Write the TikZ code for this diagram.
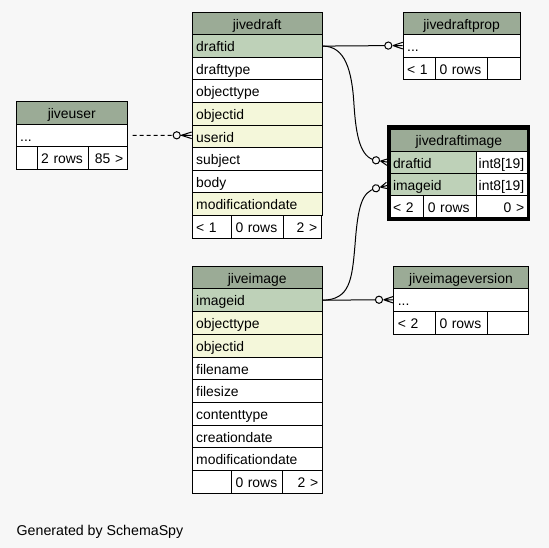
\documentclass[tikz,border=0pt]{standalone}
\usepackage{fontspec}
\setmainfont{Liberation Sans}
\definecolor{bgc}{HTML}{F7F7F7}
\definecolor{hdr}{HTML}{9BAB96}
\definecolor{pkc}{HTML}{BED1B8}
\definecolor{idx}{HTML}{F4F7DA}
\tikzset{
  tcell/.style={draw=black, line width=1pt, inner xsep=4pt, inner ysep=0pt,
    text height=12pt, text depth=0.6pt, minimum height=22.6pt, anchor=north west,
    align=left, font=\fontsize{13.9}{16}\selectfont},
  hcell/.style={tcell, fill=hdr, align=center},
  rcell/.style={tcell, align=right},
  dcell/.style={tcell, inner xsep=2.5pt, minimum height=22.2pt},
  conn/.style={draw=black, line width=1pt},
  dashconn/.style={conn, dash pattern=on 4pt off 3pt},
  pics/crow/.style={code={
    \draw[line width=1pt, fill=bgc] (0,0) circle (3.6pt);
    \draw[line width=1pt] (4.6,0) -- (#1,0) (4.6,0) -- (#1,3.3) (4.6,0) -- (#1,-3.3);
  }}
}
\begin{document}
\begin{tikzpicture}[x=1pt,y=-1pt]
\fill[bgc] (0,0) rectangle (549,548);
\useasboundingbox (0,0) rectangle (549,548);

% ---------- jivedraft ----------
\node[hcell, text width=122pt] (jd-head) at (191.7,11.7) {jivedraft};
\foreach \nm/\tx/\cl [count=\i] in {draftid/draftid/pkc, drafttype/drafttype/white,
  objecttype/objecttype/white, objectid/objectid/idx, userid/userid/idx,
  subject/subject/white, body/body/white, moddate/modificationdate/idx}
  \node[tcell, fill=\cl, text width=122pt] (jd-\nm) at (191.7,{11.7+\i*22.6}) {\tx};
\node[tcell, fill=white, text width=31.3pt] (jd-f1) at (191.7,215.1) {< 1};
\node[tcell, fill=white, text width=43.5pt] (jd-f2) at (231,215.1) {0 rows};
\node[rcell, fill=white, inner xsep=4pt, text width=30.2pt, xshift=0pt] (jd-f3) at (282.5,215.1) {2 >};

% ---------- jivedraftprop ----------
\node[hcell, text width=108.8pt] (jp-head) at (402.7,11.7) {jivedraftprop};
\node[tcell, fill=white, text width=108.8pt] (jp-dots) at (402.7,34.3) {...};
\node[tcell, fill=white, text width=24.3pt] (jp-f1) at (402.7,56.9) {< 1};
\node[tcell, fill=white, text width=43.7pt] (jp-f2) at (435,56.9) {0 rows};
\node[rcell, fill=white, text width=24.8pt] (jp-f3) at (486.7,56.9) {};

% ---------- jiveuser ----------
\node[hcell, text width=103pt] (ju-head) at (15.7,101) {jiveuser};
\node[tcell, fill=white, text width=103pt] (ju-dots) at (15.7,123.6) {...};
\node[tcell, fill=white, text width=13pt] (ju-f1) at (15.7,146.2) {};
\node[tcell, fill=white, text width=43.6pt] (ju-f2) at (36.7,146.2) {2 rows};
\node[rcell, fill=white, text width=30.4pt] (ju-f3) at (88.3,146.2) {85 >};

% ---------- jivedraftimage ----------
\node[dcell, fill=hdr, align=center, text width=131.7pt] (di-head) at (390,128.7) {jivedraftimage};
\node[dcell, fill=pkc, text width=80.7pt] (di-draftid) at (390,150.9) {draftid};
\node[dcell, fill=white, text width=46pt] (di-t1) at (475.7,150.9) {int8[19]};
\node[dcell, fill=pkc, text width=80.7pt] (di-imageid) at (390,173.1) {imageid};
\node[dcell, fill=white, text width=46pt] (di-t2) at (475.7,173.1) {int8[19]};
\node[dcell, fill=white, text width=28.3pt] (di-f1) at (390,195.3) {< 2};
\node[dcell, fill=white, inner xsep=4pt, text width=44.4pt] (di-f2) at (423.3,195.3) {0 rows};
\node[dcell, fill=white, align=right, inner xsep=3pt, text width=45pt] (di-f3) at (475.7,195.3) {0 >};
\draw[line width=3.4pt] (388.3,127) rectangle (528.4,219.2);

% ---------- jiveimage ----------
\node[hcell, minimum height=22.7pt, text width=122pt] (ji-head) at (191.7,265.7) {jiveimage};
\foreach \nm/\tx/\cl [count=\i] in {imageid/imageid/pkc, objecttype/objecttype/idx,
  objectid/objectid/idx, filename/filename/white, filesize/filesize/white,
  contenttype/contenttype/white, creationdate/creationdate/white,
  moddate/modificationdate/white}
  \node[tcell, minimum height=22.7pt, fill=\cl, text width=122pt] (ji-\nm) at (191.7,{265.7+\i*22.7}) {\tx};
\node[tcell, minimum height=22.7pt, fill=white, text width=31.3pt] (ji-f1) at (191.7,470) {};
\node[tcell, minimum height=22.7pt, fill=white, text width=43.3pt] (ji-f2) at (231,470) {0 rows};
\node[rcell, minimum height=22.7pt, fill=white, text width=31.4pt] (ji-f3) at (282.3,470) {2 >};

% ---------- jiveimageversion ----------
\node[hcell, minimum height=22.7pt, text width=126.4pt] (jv-head) at (393.3,265.7) {jiveimageversion};
\node[tcell, minimum height=22.7pt, fill=white, text width=126.4pt] (jv-dots) at (393.3,288.4) {...};
\node[tcell, minimum height=22.7pt, fill=white, text width=33.7pt] (jv-f1) at (393.3,311.1) {< 2};
\node[tcell, minimum height=22.7pt, fill=white, text width=43.7pt] (jv-f2) at (435,311.1) {0 rows};
\node[rcell, minimum height=22.7pt, fill=white, text width=33pt] (jv-f3) at (486.7,311.1) {};

% ---------- connectors ----------
\coordinate (c-prop) at (388.3,45.6);
\coordinate (c-user) at (176.7,135.3);
\coordinate (c-di1) at (376,160.3);
\coordinate (c-di2) at (376,188.3);
\coordinate (c-ver) at (379,299.75);

\draw[conn] (jd-draftid.east) -- (c-prop);
\draw[conn] (jd-draftid.east) .. controls (345,46) and (352,70) .. (354,105)
  .. controls (356,135) and (360,158) .. (c-di1);
\draw[dashconn, shorten <=5pt] (ju-dots.east) -- (c-user);
\draw[conn] (ji-imageid.east) .. controls (350,299.5) and (352,280) .. (355,245)
  .. controls (358,205) and (362,192) .. (c-di2);
\draw[conn] (ji-imageid.east) -- (c-ver);

\pic at (c-prop) {crow=14.4};
\pic at (c-user) {crow=15};
\pic[rotate=-9] at (c-di1) {crow=11.5};
\pic[rotate=14] at (c-di2) {crow=11.5};
\pic at (c-ver) {crow=14.3};

% ---------- footer ----------
\node[anchor=base west, inner sep=0pt, font=\fontsize{14.2}{17}\selectfont] (gen) at (16.5,535) {Generated by SchemaSpy};
\end{tikzpicture}
\end{document}
